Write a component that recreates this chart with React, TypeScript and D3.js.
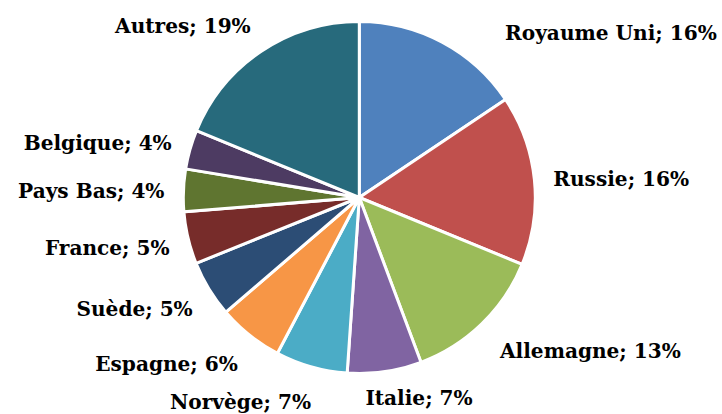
import React, { useEffect, useRef } from "react";
import * as d3 from "d3";

const categories = [
  "Royaume Uni",
  "Russie",
  "Allemagne",
  "Italie",
  "Norvège",
  "Espagne",
  "Suède",
  "France",
  "Pays Bas",
  "Belgique",
  "Autres",
];
const values = [15.6, 15.6, 13.1, 6.8, 6.6, 6.0, 5.2, 4.8, 3.9, 3.6, 18.8];
const colors = [
  "#4F81BD",
  "#C0504D",
  "#9BBB59",
  "#8064A2",
  "#4BACC6",
  "#F79646",
  "#2C4D75",
  "#772C2A",
  "#5F7530",
  "#4D3B62",
  "#276A7C",
];
// manual label adjustments (as moved in the original chart), in px
const labelNudges: [number, number][] = [
  [54, 18],
  [0, 0],
  [5, 0],
  [-22, -10],
  [5, 0],
  [0, 0],
  [0, 0],
  [0, 0],
  [0, 0],
  [0, 0],
  [0, 0],
];

const W = 722;
const H = 414;
const CX = 359.3;
const CY = 197.5;
const R = 176;

export default function App() {
  const ref = useRef<SVGSVGElement>(null);

  useEffect(() => {
    const svg = d3.select(ref.current);
    svg.selectAll("*").remove();
    const total = d3.sum(values);
    const data = categories.map((c, i) => ({ name: c, value: values[i], i }));
    const pie = d3
      .pie<any>()
      .value((d) => d.value)
      .sort(null);
    const arcs = pie(data);
    const arc = d3.arc<any>().innerRadius(0).outerRadius(R);
    const g = svg.append("g").attr("transform", `translate(${CX},${CY})`);
    g.selectAll("path")
      .data(arcs)
      .join("path")
      .attr("d", arc as any)
      .attr("fill", (d: any) => colors[d.data.i])
      .attr("stroke", "#fff")
      .attr("stroke-width", 3)
      .attr("stroke-linejoin", "miter");

    const ax = 195;
    const by = 210;
    g.selectAll("text")
      .data(arcs)
      .join("text")
      .attr("x", (d: any) => {
        const a = (d.startAngle + d.endAngle) / 2;
        return ax * Math.sin(a) + labelNudges[d.data.i][0];
      })
      .attr("y", (d: any) => {
        const a = (d.startAngle + d.endAngle) / 2;
        return -by * Math.cos(a) + 9.5 + labelNudges[d.data.i][1];
      })
      .attr("text-anchor", (d: any) => {
        const a = (d.startAngle + d.endAngle) / 2;
        return Math.sin(a) >= 0 ? "start" : "end";
      })
      .attr("font-family", "'DejaVu Serif', serif")
      .attr("font-weight", "bold")
      .attr("font-size", 20.1)
      .attr("fill", "#000")
      .text(
        (d: any) =>
          `${d.data.name}; ${Math.round((d.data.value / total) * 100)}%`
      );
  }, []);

  return (
    <svg
      ref={ref}
      width={W}
      height={H}
      style={{ position: "absolute", left: 0, top: 0, background: "#fff" }}
    />
  );
}
